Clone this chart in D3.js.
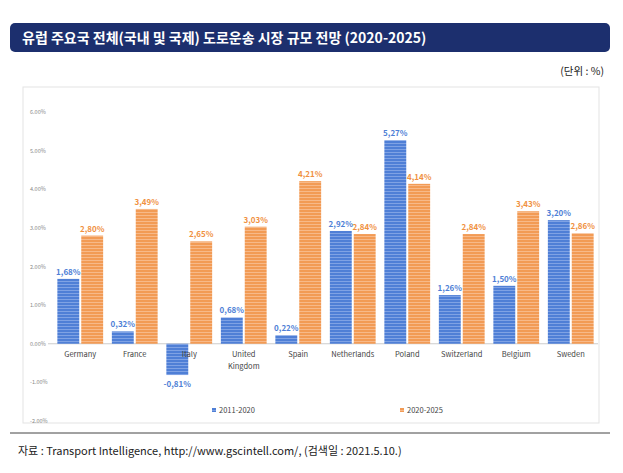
<!DOCTYPE html>
<html><head><meta charset="utf-8">
<script src="https://cdn.jsdelivr.net/npm/d3@7"></script>
<style>
body{margin:0;background:#fff;font-family:"Noto Sans CJK KR","Noto Sans",sans-serif;}
</style></head>
<body><svg id="c" width="623" height="473"></svg>
<script>
// data
const countries = [["Germany"],["France"],["Italy"],["United","Kingdom"],["Spain"],["Netherlands"],["Poland"],["Switzerland"],["Belgium"],["Sweden"]];
const past = [1.68,0.32,-0.81,0.68,0.22,2.92,5.27,1.26,1.50,3.20];
const future = [2.80,3.49,2.65,3.03,4.21,2.84,4.14,2.84,3.43,2.86];
const yTicks = [-2,-1,0,1,2,3,4,5,6];

const svg = d3.select("#c");
const defs = svg.append("defs");
// striped fills like the source image
[["pb","#4f7fd6","#7fa2e4"],["po","#f29b55","#f7b989"]].forEach(([id,a,b]) => {
  const p = defs.append("pattern").attr("id", id).attr("patternUnits","userSpaceOnUse").attr("width",4).attr("height",3);
  p.append("rect").attr("width",4).attr("height",3).attr("fill",a);
  p.append("rect").attr("y",2).attr("width",4).attr("height",1).attr("fill",b);
});

// title bar
svg.append("rect").attr("x",10).attr("y",23).attr("width",600).attr("height",29).attr("rx",5).attr("fill","#1c2f6e");
svg.append("text").attr("x",22).attr("y",43).attr("fill","#fff").style("font-size","14px").style("font-weight","bold")
  .text("유럽 주요국 전체(국내 및 국제) 도로운송 시장 규모 전망 (2020-2025)");
svg.append("text").attr("x",604).attr("y",75).attr("text-anchor","end").style("font-size","10.5px").attr("fill","#222").text("(단위 : %)");

// chart frame
svg.append("rect").attr("x",23).attr("y",87).attr("width",576).attr("height",336).attr("fill","none").attr("stroke","#e3e3e3");

const x = d3.scaleBand().domain(d3.range(countries.length)).range([53,598]).paddingInner(0.16).paddingOuter(0.08);
const y = d3.scaleLinear().domain([-2,6]).range([421,112]);
const bw = x.bandwidth()/2 - 1;

const yAxis = svg.append("g");
yTicks.forEach(t => {
  yAxis.append("text").attr("x",30).attr("y",y(t)+2).style("font-size","5.5px").attr("fill","#888").text(t.toFixed(2)+"%");
});
svg.append("line").attr("x1",48).attr("x2",598).attr("y1",y(0)).attr("y2",y(0)).attr("stroke","#ccc");

const g = svg.append("g").selectAll("g").data(countries).join("g");
g.append("rect").attr("x",(d,i)=>x(i)).attr("width",bw)
  .attr("y",(d,i)=>y(Math.max(0,past[i]))).attr("height",(d,i)=>Math.abs(y(past[i])-y(0))).attr("fill","url(#pb)");
g.append("rect").attr("x",(d,i)=>x(i)+bw+2).attr("width",bw)
  .attr("y",(d,i)=>y(future[i])).attr("height",(d,i)=>y(0)-y(future[i])).attr("fill","url(#po)");
const fmt = v => v.toFixed(2).replace(".",",")+"%";
g.append("text").attr("x",(d,i)=>x(i)+bw/2).attr("y",(d,i)=>past[i]<0 ? y(past[i])+12 : y(past[i])-4)
  .attr("text-anchor","middle").style("font-size","8px").style("font-weight","bold").attr("fill","#4f7fd6").text((d,i)=>fmt(past[i]));
g.append("text").attr("x",(d,i)=>x(i)+bw*1.5+2).attr("y",(d,i)=>y(future[i])-4)
  .attr("text-anchor","middle").style("font-size","8px").style("font-weight","bold").attr("fill","#f0913f").text((d,i)=>fmt(future[i]));
g.each(function(d,i){
  const t = d3.select(this).append("text").attr("text-anchor","middle").style("font-size","7.5px").attr("fill","#444");
  d.forEach((s,k)=>t.append("tspan").attr("x",x(i)+x.bandwidth()/2).attr("y",y(0)+13+k*12).text(s));
});

// legend
[["pb","2011-2020",212],["po","2020-2025",400]].forEach(([f,l,lx]) => {
  svg.append("rect").attr("x",lx).attr("y",408).attr("width",4).attr("height",4).attr("fill","url(#"+f+")");
  svg.append("text").attr("x",lx+7).attr("y",413).style("font-size","7.5px").attr("fill","#444").text(l);
});

// source
svg.append("line").attr("x1",10).attr("x2",610).attr("y1",433).attr("y2",433).attr("stroke","#444");
svg.append("text").attr("x",18).attr("y",455).style("font-size","11px").attr("fill","#222")
  .text("자료 : Transport Intelligence, http://www.gscintell.com/, (검색일 : 2021.5.10.)");
</script></body></html>
